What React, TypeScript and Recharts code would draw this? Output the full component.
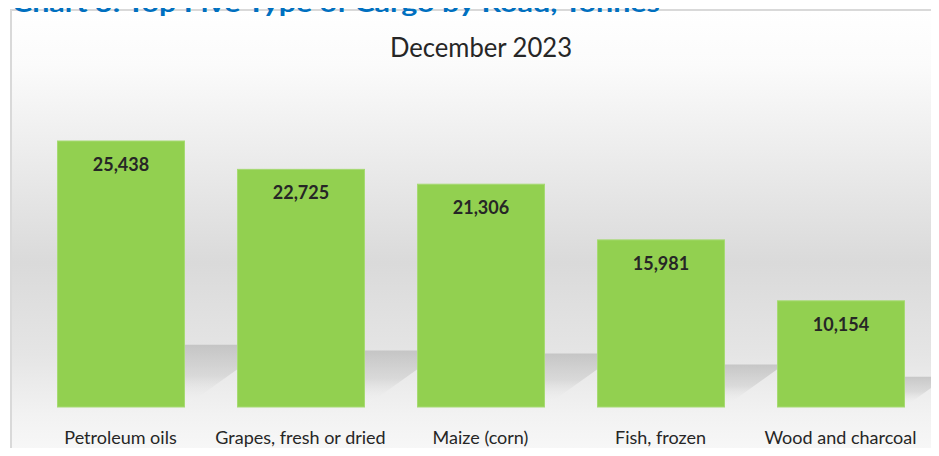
import React from 'react';
import { BarChart, Bar, XAxis, YAxis, LabelList } from 'recharts';

const categories = ['Petroleum oils', 'Grapes, fresh or dried', 'Maize (corn)', 'Fish, frozen', 'Wood and charcoal'];
const tonnes = [25438, 22725, 21306, 15981, 10154];
const pageTitle = 'Chart 3: Top Five Type of Cargo by Road, Tonnes';
const chartTitle = 'December 2023';

const data = categories.map((name, i) => ({ name, value: tonnes[i] }));

const W = 939;
const H = 456;

const BarWithShadow = (props: any) => {
  const { x, y, width, height, index } = props;
  const bottom = y + height;
  const hs = 0.2 * height + 9;
  const dx = 1.4 * hs;
  const gid = `shadowGrad${index}`;
  const pts = [
    [x, bottom],
    [x + width, bottom],
    [x + width + dx, bottom - hs],
    [x + dx, bottom - hs],
  ]
    .map((p) => p.join(','))
    .join(' ');
  return (
    <g>
      <defs>
        <linearGradient id={gid} x1="0" y1="0" x2="0" y2="1">
          <stop offset="0" stopColor="#b0b0b0" stopOpacity={0.6} />
          <stop offset="0.5" stopColor="#c4c4c4" stopOpacity={0.45} />
          <stop offset="1" stopColor="#ffffff" stopOpacity={0} />
        </linearGradient>
      </defs>
      <polygon points={pts} fill={`url(#${gid})`} />
      <rect x={x} y={y} width={width} height={height} fill="#92D050" stroke="#a6da72" strokeWidth={1} />
    </g>
  );
};

const ValueLabel = (props: any) => {
  const { x, y, width, value } = props;
  return (
    <text
      x={x + width / 2}
      y={y + 30}
      textAnchor="middle"
      fontFamily="Lato, 'Open Sans', sans-serif"
      fontWeight={700}
      fontSize={18}
      fill="#262626"
    >
      {Number(value).toLocaleString('en-US')}
    </text>
  );
};

const CatTick = (props: any) => {
  const { x, y, payload } = props;
  return (
    <text
      x={x}
      y={y}
      dy={37}
      textAnchor="middle"
      fontFamily="Lato, 'Open Sans', sans-serif"
      fontSize={18}
      fill="#262626"
    >
      {payload.value}
    </text>
  );
};

export default function App() {
  return (
    <div style={{ position: 'relative', width: W, height: H, margin: -8, overflow: 'hidden', background: '#ffffff' }}>
      <svg width={W} height={H} style={{ position: 'absolute', left: 0, top: 0 }}>
        <defs>
          <linearGradient id="bgGrad" x1="0" y1="0" x2="0" y2="1">
            <stop offset="0" stopColor="#ffffff" />
            <stop offset="0.12" stopColor="#fbfbfb" />
            <stop offset="0.55" stopColor="#dadada" />
            <stop offset="0.75" stopColor="#e5e5e5" />
            <stop offset="0.88" stopColor="#f2f2f2" />
            <stop offset="1" stopColor="#fafafa" />
          </linearGradient>
        </defs>
        <rect x={11} y={10} width={940} height={460} fill="url(#bgGrad)" stroke="#d9d9d9" strokeWidth={2} />
        <text
          x={12}
          y={12}
          fontFamily="Lato, 'Open Sans', sans-serif"
          fontWeight={700}
          fontSize={24}
          fill="#0070C0"
          textLength={648}
          lengthAdjust="spacingAndGlyphs"
        >
          {pageTitle}
        </text>
        <text
          x={481}
          y={57}
          textAnchor="middle"
          fontFamily="Lato, 'Open Sans', sans-serif"
          fontSize={26}
          fill="#262626"
          textLength={182}
          lengthAdjust="spacingAndGlyphs"
        >
          {chartTitle}
        </text>
      </svg>
      <div style={{ position: 'absolute', left: 0, top: 0 }}>
        <BarChart
          width={W}
          height={H}
          data={data}
          margin={{ top: 93.3, right: 8.5, bottom: 0, left: 30.5 }}
          barSize={127}
        >
          <XAxis
            dataKey="name"
            axisLine={false}
            tickLine={false}
            tickSize={0}
            tickMargin={0}
            height={49}
            interval={0}
            tick={<CatTick />}
          />
          <YAxis hide domain={[0, 30000]} />
          <Bar dataKey="value" isAnimationActive={false} shape={<BarWithShadow />}>
            <LabelList dataKey="value" content={<ValueLabel />} />
          </Bar>
        </BarChart>
      </div>
    </div>
  );
}
